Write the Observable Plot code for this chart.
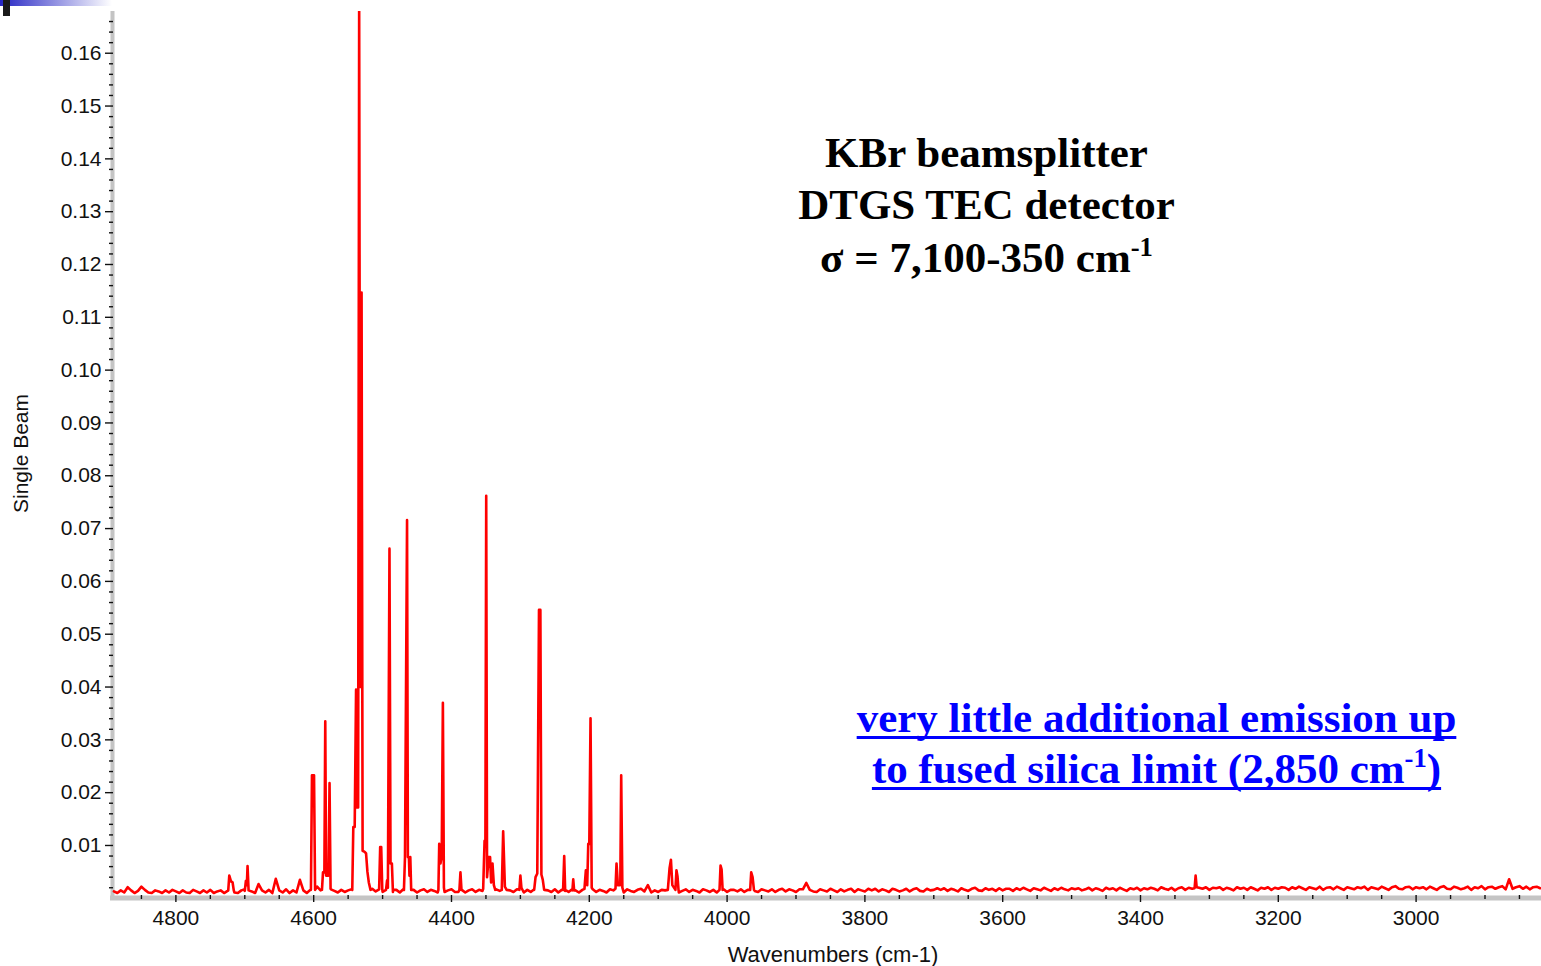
<!DOCTYPE html>
<html>
<head>
<meta charset="utf-8">
<script src="https://cdn.jsdelivr.net/npm/d3@7"></script>
<script src="https://cdn.jsdelivr.net/npm/@observablehq/plot@0.6"></script>
<style>
  html, body { margin: 0; padding: 0; background: #fff; }
  #wrap { position: relative; width: 1541px; height: 966px; overflow: hidden; }
  #chart svg { display: block; }
  .slide-bar { position: absolute; left: 0; top: 0; width: 112px; height: 6px;
               background: linear-gradient(to right, #2626c4, #ffffff); }
  .slide-tab { position: absolute; left: 3px; top: 0; width: 7px; height: 16px; background: #1a1a1a; }
</style>
</head>
<body>
<div id="wrap">
  <div id="chart"></div>
  <div class="slide-bar"></div>
  <div class="slide-tab"></div>
</div>
<script>
// Baseline of the single-beam spectrum, sampled every 5 cm-1 from 4890 down to 2820,
// in units of 1e-4.
const baseStart = 4890;
const baseStep = 5;
const baselineNoise = [
  13,10,15,11,21,15,10,14,22,16,11,10,15,13,10,15,11,16,13,10,
  15,11,10,16,13,10,15,11,16,10,13,15,10,14,16,11,10,15,17,11,
  13,10,27,15,11,16,10,37,15,11,17,10,15,11,35,15,10,16,13,22,
  15,14,13,17,14,11,16,12,15,17,14,15,13,14,15,18,13,17,12,16,
  15,12,16,11,17,14,12,16,11,15,17,12,16,14,11,16,12,15,17,12,
  12,16,11,15,17,12,16,14,11,16,12,17,14,11,16,15,12,17,14,11,
  16,12,17,14,11,16,15,12,17,11,16,14,12,17,15,11,16,12,15,17,
  12,16,14,11,17,15,12,16,11,17,14,12,16,18,13,25,11,15,12,16,
  15,17,12,16,11,14,17,12,16,14,11,17,15,12,16,11,15,17,12,16,
  16,13,17,12,16,18,14,12,17,15,13,17,12,16,18,13,17,15,12,17,
  17,29,16,13,12,17,15,13,18,15,12,17,13,16,18,12,17,15,13,18,
  15,18,13,17,15,12,18,16,13,15,18,13,17,19,14,13,18,15,16,19,
  16,19,14,18,16,13,19,16,14,18,20,15,14,19,16,18,14,19,15,18,
  18,14,19,16,20,17,14,19,17,15,20,17,14,19,16,20,17,15,19,17,
  19,15,17,20,15,19,17,14,20,17,19,15,20,17,14,19,17,20,15,19,
  17,20,18,15,21,18,16,20,15,19,21,16,20,18,15,20,18,21,16,20,
  19,21,16,20,18,15,21,18,20,16,21,18,15,20,18,21,16,20,18,21,
  20,16,21,18,22,19,16,21,19,17,22,16,20,21,17,22,19,16,21,19,
  17,21,19,22,16,21,19,17,22,19,16,21,23,18,17,21,22,17,21,19,
  21,17,22,19,16,21,23,18,17,22,20,17,19,22,16,21,19,23,17,21,
  22,18,21,23,17,36,18,21,23,18,22,17,21,22,19
];

// Emission lines: each group is [wavenumber (cm-1), single-beam value] points.
const peaks = [
  [[4724, 0.0015], [4722.5, 0.0043], [4720, 0.0032], [4717.7, 0.0030], [4716, 0.0015]],
  [[4700, 0.0014], [4698.4, 0.0033], [4697, 0.0025], [4696, 0.0061], [4694.5, 0.0015]],
  [[4604, 0.0016], [4602.5, 0.0233], [4599.5, 0.0233], [4598, 0.0016]],
  [[4588, 0.0016], [4586.5, 0.0049], [4584.5, 0.0049], [4583.2, 0.0335], [4582, 0.0043],
   [4578.5, 0.0043], [4577, 0.0218], [4575.5, 0.0018]],
  [[4544, 0.0016], [4542.5, 0.0135], [4540.5, 0.0135], [4538.5, 0.0395], [4537, 0.0172],
   [4535.5, 0.0172], [4534, 0.1700], [4532.5, 0.0400], [4530.5, 0.1147], [4529, 0.0090],
   [4526, 0.0088], [4524, 0.0085], [4522, 0.0050], [4520, 0.0030], [4517.5, 0.0016]],
  [[4505, 0.0018], [4503.5, 0.0097], [4502, 0.0097], [4500.5, 0.0018]],
  [[4495, 0.0016], [4493.5, 0.0034], [4492.3, 0.0020], [4490, 0.0662], [4488.5, 0.0066],
   [4486.5, 0.0066], [4485, 0.0016]],
  [[4469, 0.0016], [4467.5, 0.0078], [4464.5, 0.0716], [4463.3, 0.0078], [4461.8, 0.0078],
   [4461, 0.0043], [4459.8, 0.0078], [4458.5, 0.0016]],
  [[4419, 0.0016], [4417.8, 0.0103], [4416, 0.0066], [4414.2, 0.0080], [4412.5, 0.0370],
   [4411, 0.0020]],
  [[4388.5, 0.0016], [4387, 0.0049], [4385.5, 0.0016]],
  [[4354, 0.0018], [4352, 0.0109], [4350.8, 0.0109], [4349.6, 0.0762], [4348.4, 0.0040],
   [4346, 0.0078], [4344, 0.0078], [4342.5, 0.0030], [4340.5, 0.0066], [4338.5, 0.0025],
   [4336.5, 0.0016]],
  [[4327, 0.0016], [4325, 0.0127], [4322.5, 0.0022]],
  [[4301.5, 0.0016], [4300, 0.0043], [4298.5, 0.0020]],
  [[4280, 0.0016], [4278, 0.0040], [4275.5, 0.0047], [4273, 0.0546], [4271, 0.0546],
   [4269.5, 0.0045], [4267.5, 0.0035], [4265.5, 0.0016]],
  [[4238, 0.0016], [4236.4, 0.0080], [4235, 0.0016]],
  [[4224.5, 0.0015], [4223.3, 0.0036], [4222, 0.0015]],
  [[4207, 0.0018], [4205, 0.0053], [4203, 0.0025], [4201.5, 0.0103], [4200, 0.0103],
   [4198.2, 0.0341], [4196.5, 0.0020]],
  [[4162, 0.0018], [4160.5, 0.0066], [4158.5, 0.0025], [4155, 0.0025], [4153.7, 0.0233],
   [4152, 0.0020]],
  [[4086, 0.0016], [4083.5, 0.0057], [4081.5, 0.0073], [4079.5, 0.0025], [4075, 0.0016],
   [4073.5, 0.0053], [4072, 0.0042], [4070.5, 0.0016]],
  [[4011, 0.0016], [4009.5, 0.0062], [4008, 0.0055], [4006.5, 0.0016]],
  [[3966.5, 0.0016], [3965, 0.0049], [3963, 0.0040], [3961, 0.0016]],
  [[3321.5, 0.0019], [3320, 0.0043], [3318.5, 0.0021]]
];

const xTicks = [4800, 4600, 4400, 4200, 4000, 3800, 3600, 3400, 3200, 3000];
const yTicks = [0.01, 0.02, 0.03, 0.04, 0.05, 0.06, 0.07, 0.08, 0.09, 0.10,
                0.11, 0.12, 0.13, 0.14, 0.15, 0.16];

const xDomain = [4892, 2818];
const yDomain = [0.00053, 0.1679];

// minor ticks: every 50 cm-1 and every 0.002
const xMinor = d3.range(4850, 2818, -50).filter(v => !xTicks.includes(v));
const yMinor = d3.range(1, 84).map(i => +(i * 0.002).toFixed(3)).filter(v => v < yDomain[1] && Math.round(v * 1000) % 10 !== 0);

// Merge baseline samples with emission-line points; samples that fall inside a
// line group are left out so the group's own shape is drawn.
const spans = peaks.map(g => [d3.min(g, d => d[0]), d3.max(g, d => d[0])]);
const spectrum = [];
baselineNoise.forEach((v, i) => {
  const wn = baseStart - i * baseStep;
  if (!spans.some(([a, b]) => wn > a && wn < b)) spectrum.push({wn, value: v / 1e4});
});
peaks.forEach(g => g.forEach(([wn, value]) => spectrum.push({wn, value})));
spectrum.sort((a, b) => b.wn - a.wn);

const sans = "'Liberation Sans', Arial, Helvetica, sans-serif";
const serif = "'Liberation Serif', 'Times New Roman', Times, serif";

const mL = 112, mT = 11;
const titleFont = 43;
const noteFont = 43;

function textAt(str, cx, baseline, opts) {
  const fs = opts.fontSize;
  return Plot.text([str], {
    frameAnchor: "top-left",
    dx: cx - mL,
    dy: baseline - mT - 0.32 * fs,
    lineAnchor: "middle",
    textAnchor: "middle",
    ...opts
  });
}

const chart = Plot.plot({
  width: 1541,
  height: 966,
  marginLeft: mL,
  marginRight: 0,
  marginTop: mT,
  marginBottom: 71,
  x: {domain: xDomain, axis: null},
  y: {domain: yDomain, axis: null},
  style: {background: "#fff", color: "#000", fontFamily: sans, fontSize: "21px", overflow: "visible"},
  marks: [
    // grey axis bars
    Plot.ruleX([xDomain[0]], {stroke: "#c4c4c4", strokeWidth: 4, insetBottom: -5}),
    Plot.ruleY([yDomain[0]], {stroke: "#c4c4c4", strokeWidth: 5, dy: 2.5, insetLeft: -2}),
    // spectrum
    Plot.line(spectrum, {x: "wn", y: "value", stroke: "#ff0000", strokeWidth: 2.6, clip: true}),
    // ticks
    Plot.axisX({anchor: "bottom", ticks: xMinor, tickSize: 4, tickFormat: () => "", label: null,
                stroke: "#111", strokeWidth: 1.4}),
    Plot.axisX({anchor: "bottom", ticks: xTicks, tickSize: 7, tickPadding: 8, tickFormat: d => String(d),
                label: null, stroke: "#111", strokeWidth: 1.4, fontSize: 21, fill: "#111"}),
    Plot.axisY({anchor: "left", ticks: yMinor, tickSize: 4, dx: 1, tickFormat: () => "", label: null,
                stroke: "#111", strokeWidth: 1.4}),
    Plot.axisY({anchor: "left", ticks: yTicks, tickSize: 8, tickPadding: 4, dx: 1,
                tickFormat: d3.format(".2f"), label: null, stroke: "#111", strokeWidth: 1.4,
                fontSize: 21, fill: "#111"}),
    // axis titles
    textAt("Wavenumbers (cm-1)", 832.5, 961.5, {fontSize: 22, fill: "#111", fontFamily: sans}),
    Plot.text(["Single Beam"], {frameAnchor: "left", dx: 20.5 - mL, rotate: -90, fontSize: 21,
                                lineAnchor: "middle", textAnchor: "middle", fill: "#111", fontFamily: sans}),
    // annotations
    textAt("KBr beamsplitter", 986, 166, {fontSize: titleFont, fontWeight: "bold", fontFamily: serif, fill: "#000"}),
    textAt("DTGS TEC detector", 986, 218, {fontSize: titleFont, fontWeight: "bold", fontFamily: serif, fill: "#000"}),
    textAt("σ = 7,100-350 cm", 986, 271, {fontSize: titleFont, fontWeight: "bold", fontFamily: serif, fill: "#000"}),
    textAt("very little additional emission up", 1156, 731, {fontSize: noteFont, fontWeight: "bold", fontFamily: serif, fill: "#0000ff"}),
    textAt("to fused silica limit (2,850 cm", 1156, 782, {fontSize: noteFont, fontWeight: "bold", fontFamily: serif, fill: "#0000ff"})
  ]
});

document.getElementById("chart").appendChild(chart);

// superscripts for the wavenumber units
const svg = d3.select(chart);
svg.selectAll("text").each(function () {
  const t = d3.select(this);
  const s = this.textContent;
  if (s === "σ = 7,100-350 cm") {
    t.append("tspan").attr("font-size", "0.62em").attr("dy", "-0.6em").text("-1");
  } else if (s === "to fused silica limit (2,850 cm") {
    t.append("tspan").attr("font-size", "0.62em").attr("dy", "-0.6em").text("-1");
    t.append("tspan").attr("dy", "0.372em").text(")");
  }
});

// underline the blue note
svg.selectAll("text").each(function () {
  const s = this.textContent;
  if (s.startsWith("very little") || s.startsWith("to fused silica")) {
    const b = this.getBBox();
    const m = this.getCTM();
    const y = s.startsWith("very") ? 737.5 : 788.5;
    svg.append("line")
      .attr("x1", m.e + b.x).attr("x2", m.e + b.x + b.width)
      .attr("y1", y).attr("y2", y)
      .attr("stroke", "#0000ff").attr("stroke-width", 3);
  }
});
</script>
</body>
</html>
